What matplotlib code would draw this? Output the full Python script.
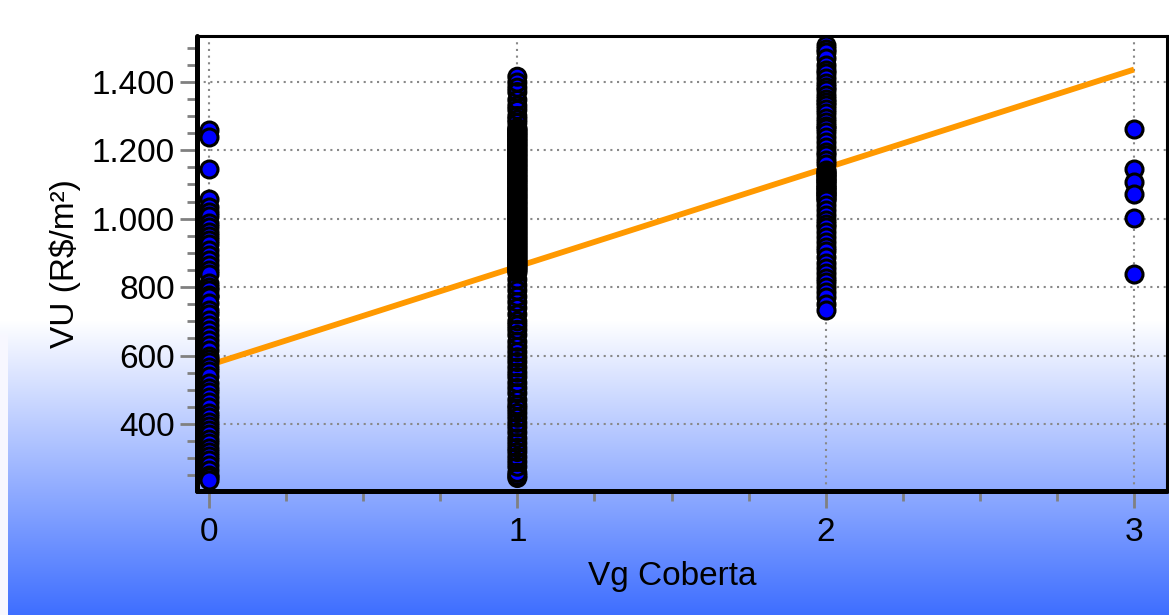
import matplotlib
matplotlib.use("Agg")
import matplotlib.pyplot as plt
import numpy as np
from matplotlib.ticker import FuncFormatter, MultipleLocator

plt.rcParams['font.family'] = ['Liberation Sans', 'DejaVu Sans']

# Observed unit values (R$/m²) grouped by number of covered parking spaces
vu_vg0 = [1260, 1240, 1145, 1058, 1034, 1020, 1008, 988, 975, 961, 950, 938,
          925, 909, 895, 880, 866, 851, 838, 812, 800, 792, 777, 771, 755,
          733, 720, 705, 690, 675, 660, 646, 630, 616, 600, 590, 580, 567,
          555, 540, 520, 505, 492, 479, 465, 450, 432, 420, 405, 395, 383,
          370, 356, 344, 330, 318, 305, 295, 280, 265, 251, 245, 237]

vu_vg1 = [1415, 1398, 1383, 1370, 1347, 1330, 1318, 1300, 1290, 1280, 1265,
          1262, 1258, 1255, 1251, 1247, 1244, 1241, 1236, 1233, 1229, 1226,
          1222, 1218, 1215, 1211, 1208, 1203, 1200, 1197, 1193, 1189, 1186,
          1182, 1179, 1174, 1171, 1168, 1164, 1160, 1157, 1153, 1150, 1146,
          1142, 1139, 1136, 1131, 1128, 1124, 1121, 1117, 1113, 1110, 1107,
          1103, 1099, 1096, 1092, 1088, 1085, 1082, 1078, 1074, 1071, 1067,
          1064, 1060, 1057, 1053, 1049, 1046, 1043, 1039, 1035, 1032, 1028,
          1025, 1021, 1018, 1014, 1011, 1007, 1004, 1000, 997, 993, 990, 986,
          983, 979, 976, 972, 969, 965, 962, 958, 955, 951, 948, 944, 941,
          937, 934, 930, 927, 923, 920, 916, 913, 909, 906, 902, 899, 895,
          892, 888, 885, 881, 878, 874, 871, 867, 864, 860, 857, 853, 850,
          846, 841, 822, 805, 790, 772, 756, 739, 720, 700, 688, 675, 660,
          640, 625, 610, 595, 581, 565, 550, 537, 520, 505, 490, 470, 455,
          445, 432, 418, 403, 390, 375, 358, 344, 330, 318, 303, 289, 275,
          257, 248, 242]

vu_vg2 = [1508, 1495, 1488, 1470, 1450, 1435, 1425, 1410, 1397, 1385, 1375,
          1362, 1350, 1340, 1333, 1320, 1309, 1295, 1283, 1272, 1265, 1254,
          1240, 1225, 1210, 1195, 1185, 1172, 1160, 1143, 1139, 1135, 1131,
          1127, 1122, 1118, 1114, 1110, 1106, 1101, 1097, 1093, 1089, 1085,
          1080, 1076, 1072, 1068, 1063, 1059, 1055, 1040, 1025, 1011, 995,
          985, 976, 962, 947, 932, 918, 905, 889, 870, 856, 840, 827, 815,
          801, 785, 771, 750, 733]

vu_vg3 = [1263, 1146, 1108, 1073, 1002, 839]

groups = [0, 1, 2, 3]
series = [vu_vg0, vu_vg1, vu_vg2, vu_vg3]

# Fitted linear trend VU = a + b * Vg
trend_intercept = 572
trend_slope = 288

y_ticks = [400, 600, 800, 1000, 1200, 1400]
x_ticks = [0, 1, 2, 3]

W, H = 1169, 615
fig = plt.figure(figsize=(W / 100, H / 100), dpi=100)

# Page background: white top fading into blue towards the bottom
bg = fig.add_axes([0, 0, 1, 1], zorder=0)
rows = np.arange(H)
t = np.clip((rows - 320) / (H - 320), 0, 1)
top_c = np.array([1.0, 1.0, 1.0])
bot_c = np.array([62, 110, 255]) / 255
grad = (1 - t)[:, None] * top_c + t[:, None] * bot_c
img = np.repeat(grad[:, None, :], W, axis=1)
img[:, :8, :] = np.maximum(img[:, :8, :], 0.97)
bg.imshow(img, aspect='auto', extent=[0, W, H, 0], interpolation='bilinear')
bg.set_xlim(0, W)
bg.set_ylim(H, 0)
bg.axis('off')

ax = fig.add_axes([197 / W, 1 - 491 / H, 970 / W, 455 / H], zorder=1)
ax.patch.set_alpha(0)

ax.set_xlim(-0.039, 3.107)
ax.set_ylim(204, 1534)

# Trend line behind the points
xs = np.array([0, 3])
ax.plot(xs, trend_intercept + trend_slope * xs, color='#FF9900', lw=4.2,
        zorder=2, solid_capstyle='butt')

marker_area = 150
edge_w = 2.2
for g, vals in zip(groups, series):
    xv = np.full(len(vals), g, dtype=float)
    if len(vals) > 100:
        # very crowded column: fills first, outlines on top
        ax.scatter(xv, vals, s=marker_area, facecolor='#0000FF',
                   edgecolor='none', zorder=3, clip_on=False)
        ax.scatter(xv, vals, s=marker_area, facecolor='none',
                   edgecolor='black', linewidths=edge_w, zorder=4,
                   clip_on=False)
    else:
        ax.scatter(xv, vals, s=marker_area, facecolor='#0000FF',
                   edgecolor='black', linewidths=edge_w, zorder=4,
                   clip_on=False)

ax.set_xticks(x_ticks)
ax.set_yticks(y_ticks)
ax.xaxis.set_minor_locator(MultipleLocator(0.25))
ax.yaxis.set_minor_locator(MultipleLocator(50))
ax.yaxis.set_major_formatter(FuncFormatter(lambda v, p: f"{int(v):,}".replace(",", ".")))

ax.grid(True, which='major', color='#888888', lw=1.5, linestyle=(0, (1, 2.2)))
ax.set_axisbelow(True)

ax.tick_params(which='major', length=12, width=2, color='#808080',
               labelsize=24, labelcolor='black')
ax.tick_params(axis='x', which='major', pad=7)
ax.tick_params(axis='y', which='major', pad=4)
ax.tick_params(which='minor', length=7, width=2, color='#808080')

for side in ['left', 'bottom']:
    ax.spines[side].set_linewidth(3.6)
    ax.spines[side].set_capstyle('round')
for side in ['top', 'right']:
    ax.spines[side].set_linewidth(2.2)
for s in ax.spines.values():
    s.set_color('black')
    s.set_zorder(5)

ax.set_xlabel('Vg Coberta', fontsize=24, va='center')
ax.set_ylabel('VU (R$/m²)', fontsize=24, va='center')
ax.xaxis.set_label_coords(0.49, -0.189)
ax.yaxis.set_label_coords(-0.136, 0.5)

fig.savefig('out.png', dpi=100)
